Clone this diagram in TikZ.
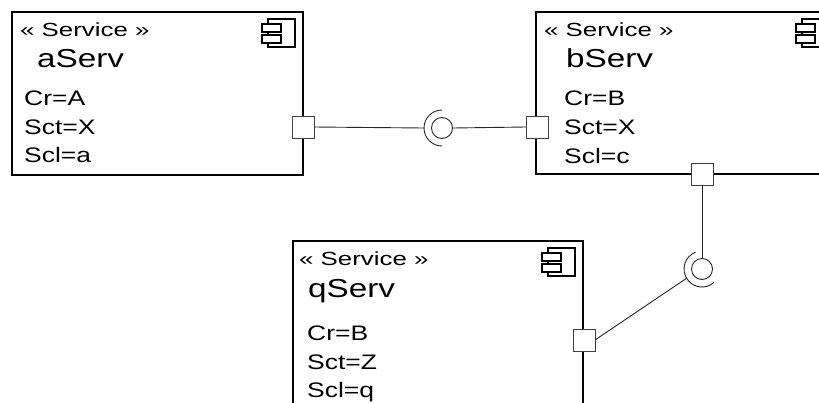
\documentclass[tikz,border=0pt]{standalone}
\usepackage{fontspec}
\setmainfont{Liberation Sans}[FakeStretch=1.26]
\newfontfamily\stfont{Liberation Sans}[FakeStretch=1.36]
\newfontfamily\nmfont{Liberation Sans}[FakeStretch=1.28]
\usetikzlibrary{calc}
\begin{document}
\begin{tikzpicture}[x=1pt,y=-1pt,
  box/.style={draw, line width=1.8pt, anchor=north west, inner sep=0pt, outer sep=0pt},
  port/.style={draw=black!75, fill=white, line width=0.9pt, minimum size=22pt, inner sep=0pt, outer sep=0pt},
  ball/.style={circle, draw=black!85, line width=0.9pt, minimum size=21pt, inner sep=0pt, outer sep=0pt},
  conn/.style={draw=black!85, line width=0.9pt},
  stereo/.style={anchor=base west, inner sep=0pt, font=\stfont\fontsize{19}{19}\selectfont},
  sname/.style={anchor=base west, inner sep=0pt, font=\nmfont\fontsize{26}{26}\selectfont},
  attr/.style={anchor=base west, inner sep=0pt, font=\fontsize{21}{21}\selectfont},
  compicon/.pic={
    \draw[line width=1.4pt] (-35,7) rectangle (-8,35);
    \draw[line width=1.4pt, fill=white] (-41,12) rectangle (-22,20);
    \draw[line width=1.4pt, fill=white] (-41,23) rectangle (-22,31);
  }]
\clip (0,0) rectangle (819,402);
% component boxes
\node[box, minimum width=291pt, minimum height=163pt] (aServ) at (12,12) {};
\node[box, minimum width=301pt, minimum height=162pt] (bServ) at (536,12) {};
\node[box, minimum width=290pt, minimum height=200pt] (qServ) at (293,241) {};
% icons
\pic at (aServ.north east) {compicon};
\pic at (bServ.north east) {compicon};
\pic at (qServ.north east) {compicon};
% texts aServ
\node[stereo] (aSt) at (20,36) {« Service »};
\node[sname] (aNm) at (37,67) {aServ};
\node[attr] (aA1) at (24,105) {Cr=A};
\node[attr] (aA2) at (24,134) {Sct=X};
\node[attr] (aA3) at (24,162) {Scl=a};
% texts bServ
\node[stereo] (bSt) at (544,36) {« Service »};
\node[sname] (bNm) at (566,67) {bServ};
\node[attr] (bA1) at (564,105) {Cr=B};
\node[attr] (bA2) at (564,134) {Sct=X};
\node[attr] (bA3) at (564,163) {Scl=c};
% texts qServ
\node[stereo] (qSt) at (299,265) {« Service »};
\node[sname] (qNm) at (308,297) {qServ};
\node[attr] (qA1) at (307,340) {Cr=B};
\node[attr] (qA2) at (307,369) {Sct=Z};
\node[attr] (qA3) at (307,397) {Scl=q};
% ports
\node[port] (pA) at (303,127) {};
\node[port] (pBw) at (537,127) {};
\node[port] (pBs) at (702,174) {};
\node[port] (pQ) at (584,340) {};
% interfaces
\node[ball] (b1) at (442,128) {};
\node[ball] (b2) at (702,269) {};
\coordinate (s1) at ([shift={(180:18)}]b1.center);
\coordinate (s2) at ([shift={(149:18)}]b2.center);
\draw[conn] ([shift={(90:18)}]b1.center) arc[start angle=90, end angle=270, radius=18];
\draw[conn] ([shift={(49:18)}]b2.center) arc[start angle=49, end angle=249, radius=18];
% connectors
\draw[conn] (pA.east) -- (s1);
\draw[conn] (b1.east) -- (pBw.west);
\draw[conn] (pBs.south) -- (b2.north);
\draw[conn] (pQ.east) -- (s2);
\end{tikzpicture}
\end{document}
